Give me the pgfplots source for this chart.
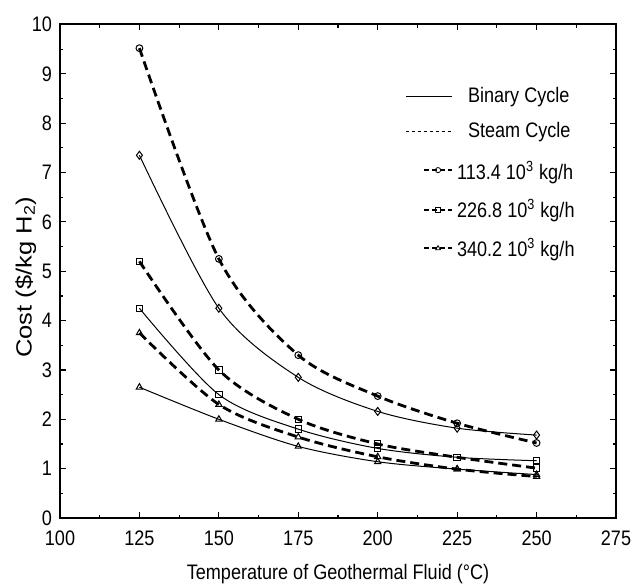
\documentclass[border=0pt]{standalone}
\usepackage{fontspec}
\setmainfont{Liberation Sans}[FakeStretch=0.86]
\newfontfamily\ylabfont{Liberation Sans}[FakeStretch=1.16]
\usepackage{pgfplots}
\pgfplotsset{compat=1.18}
\begin{document}
\begin{tikzpicture}
\begin{axis}[
  scale only axis,
  width=278pt, height=246.75pt,
  xmin=100, xmax=275, ymin=0, ymax=10,
  xtick={100,125,...,275}, ytick={0,1,...,10},
  minor x tick num=1, minor y tick num=1,
  tick align=inside,
  major tick length=3pt, minor tick length=1.6pt,
  axis line style={line width=1pt},
  every tick/.style={black, line width=0.6pt},
  /pgf/number format/assume math mode=true,
  /pgf/number format/1000 sep={},
  tick label style={font=\fontsize{10.5}{12}\selectfont},
  xticklabel style={yshift=-3pt},
  yticklabel style={xshift=-0.5pt},
  xlabel={Temperature of Geothermal Fluid (°C)},
  ylabel={Cost (\$/kg H\textsubscript{2})},
  xlabel style={font=\fontsize{10.5}{12}\selectfont, at={(axis description cs:0.5,-0.1237)}, anchor=base},
  ylabel style={font=\ylabfont\fontsize{11}{13}\selectfont, at={(axis description cs:-0.051,0.488)}, rotate=0, anchor=base},
  legend cell align=left,
  legend style={draw=none, fill=none, at={(0.61,0.89)}, anchor=north west,
    font=\fontsize{10.5}{12}\selectfont, row sep=4.5pt},
]
% legend entries
\addlegendimage{legend image code/.code={\draw[black, line width=0.5pt] (6pt,0pt) -- (29pt,0pt);}}
\addlegendentry{\hspace{5.5pt}Binary Cycle}
\addlegendimage{legend image code/.code={\draw[black, line width=0.5pt, dash pattern=on 1.5pt off 1.5pt] (6pt,0pt) -- (29pt,0pt);}}
\addlegendentry{\hspace{5.5pt}Steam Cycle}
\addlegendimage{legend image code/.code={\draw[black, line width=1pt, dash pattern=on 2.5pt off 1.5pt, mark=o, mark size=1.3pt, mark options={solid, line width=0.4pt, fill=white}, mark repeat=2, mark phase=2] plot coordinates {(15pt,0pt) (22pt,0pt) (29pt,0pt)};}}
\addlegendentry{\rule{0pt}{11pt}113.4 10\textsuperscript{3} kg/h}
\addlegendimage{legend image code/.code={\draw[black, line width=1pt, dash pattern=on 2.5pt off 1.5pt, mark=square, mark size=1.3pt, mark options={solid, line width=0.4pt, fill=white}, mark repeat=2, mark phase=2] plot coordinates {(15pt,0pt) (22pt,0pt) (29pt,0pt)};}}
\addlegendentry{226.8 10\textsuperscript{3} kg/h}
\addlegendimage{legend image code/.code={\draw[black, line width=1pt, dash pattern=on 2.5pt off 1.5pt, mark=triangle, mark size=1.4pt, mark options={solid, line width=0.4pt, fill=white}, mark repeat=2, mark phase=2] plot coordinates {(15pt,0pt) (22pt,0pt) (29pt,0pt)};}}
\addlegendentry{340.2 10\textsuperscript{3} kg/h}

% Steam cycle 113.4
\addplot[black, smooth, tension=0.5, line width=1.4pt, dash pattern=on 4.5pt off 2.5pt, mark=o, mark size=1.7pt,
  mark options={solid, line width=0.5pt, fill=white}, forget plot]
  coordinates {(125,9.52) (150,5.25) (175,3.3) (200,2.47) (225,1.92) (250,1.52)};
% Binary cycle 113.4
\addplot[black, smooth, tension=0.5, line width=0.5pt, mark=diamond, mark size=2pt,
  mark options={solid, line width=0.5pt, fill=white}, forget plot]
  coordinates {(125,7.35) (150,4.25) (175,2.85) (200,2.16) (225,1.82) (250,1.68)};
% Steam cycle 226.8
\addplot[black, smooth, tension=0.5, line width=1.4pt, dash pattern=on 4.5pt off 2.5pt, mark=square, mark size=1.6pt,
  mark options={solid, line width=0.5pt, fill=white}, forget plot]
  coordinates {(125,5.2) (150,3.0) (175,2.0) (200,1.5) (225,1.23) (250,1.01)};
% Binary cycle 226.8
\addplot[black, smooth, tension=0.5, line width=0.5pt, mark=square, mark size=1.6pt,
  mark options={solid, line width=0.5pt, fill=white}, forget plot]
  coordinates {(125,4.25) (150,2.5) (175,1.8) (200,1.41) (225,1.23) (250,1.16)};
% Steam cycle 340.2
\addplot[black, smooth, tension=0.5, line width=1.4pt, dash pattern=on 4.5pt off 2.5pt, mark=triangle, mark size=1.8pt,
  mark options={solid, line width=0.5pt, fill=white}, forget plot]
  coordinates {(125,3.75) (150,2.3) (175,1.64) (200,1.24) (225,0.99) (250,0.84)};
% Binary cycle 340.2
\addplot[black, smooth, tension=0.5, line width=0.5pt, mark=triangle, mark size=1.8pt,
  mark options={solid, line width=0.5pt, fill=white}, forget plot]
  coordinates {(125,2.65) (150,2.0) (175,1.45) (200,1.14) (225,0.99) (250,0.88)};
\end{axis}
\pgfresetboundingbox
\path[use as bounding box] ([shift={(-30pt,-35pt)}]current axis.south west) rectangle ([shift={(13pt,12.25pt)}]current axis.north east);
\end{tikzpicture}
\end{document}
